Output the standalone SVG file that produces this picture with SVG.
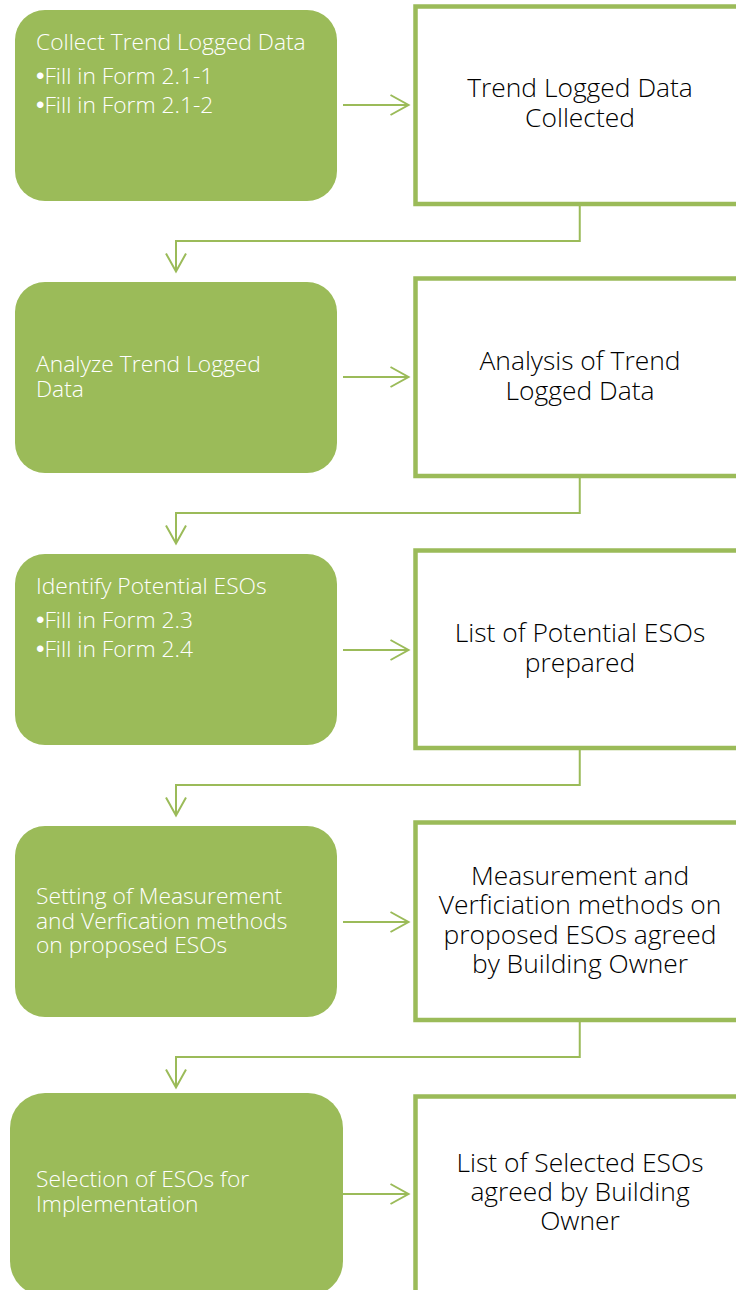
<svg xmlns="http://www.w3.org/2000/svg" width="736" height="1290" viewBox="0 0 736 1290">
<defs>
<marker id="arr" viewBox="-2 -2 24 24" markerWidth="24" markerHeight="24" refX="17.5" refY="10" markerUnits="userSpaceOnUse" orient="auto">
<path d="M0,0 L18,10 L0,20" fill="none" stroke="#9BBB59" stroke-width="2"/>
</marker>
</defs>
<style>
.g{fill:#9BBB59}
.w{fill:#fff;stroke:#9BBB59;stroke-width:4.5}
.gt{fill:#fff;font-family:"Open Sans","Noto Sans","Liberation Sans",sans-serif;font-size:22.8px;font-weight:300}
.b{font-family:"Liberation Sans",Arial,sans-serif;font-size:24px;font-weight:400}
.wt{fill:#000;font-family:"Open Sans","Noto Sans","Liberation Sans",sans-serif;font-size:26.4px;font-weight:300;text-anchor:middle}
.c{fill:none;stroke:#9BBB59;stroke-width:2;marker-end:url(#arr)}
</style>
<rect width="736" height="1290" fill="#fff"/>
<g id="connectors">
<path class="c" d="M343,105 H408"/>
<path class="c" d="M343,377 H408"/>
<path class="c" d="M343,650 H408"/>
<path class="c" d="M343,922 H408"/>
<path class="c" d="M343,1194 H408"/>
<path class="c" d="M579.75,206 V241 H176 V271"/>
<path class="c" d="M579.75,478 V513 H176 V543"/>
<path class="c" d="M579.75,750 V785 H176 V815"/>
<path class="c" d="M579.75,1022 V1057 H176 V1087"/>
</g>
<g id="step1">
<rect class="g" x="15" y="10" width="322" height="191" rx="30"/>
<text class="gt" x="36" y="49.5">Collect Trend Logged Data</text>
<text class="gt" x="36" y="83.5"><tspan class="b">•</tspan>Fill in Form 2.1-1</text>
<text class="gt" x="36" y="112.5"><tspan class="b">•</tspan>Fill in Form 2.1-2</text>
</g>
<g id="result1">
<rect class="w" x="415.5" y="6.5" width="330" height="197.5"/>
<text class="wt" x="580" y="97">Trend Logged Data</text>
<text class="wt" x="580" y="127">Collected</text>
</g>
<g id="step2">
<rect class="g" x="15" y="282" width="322" height="191" rx="30"/>
<text class="gt" x="36" y="372">Analyze Trend Logged</text>
<text class="gt" x="36" y="397">Data</text>
</g>
<g id="result2">
<rect class="w" x="415.5" y="278.5" width="330" height="197.5"/>
<text class="wt" x="580" y="369.5">Analysis of Trend</text>
<text class="wt" x="580" y="399.5">Logged Data</text>
</g>
<g id="step3">
<rect class="g" x="15" y="554" width="322" height="191" rx="30"/>
<text class="gt" x="36" y="594">Identify Potential ESOs</text>
<text class="gt" x="36" y="628"><tspan class="b">•</tspan>Fill in Form 2.3</text>
<text class="gt" x="36" y="657"><tspan class="b">•</tspan>Fill in Form 2.4</text>
</g>
<g id="result3">
<rect class="w" x="415.5" y="550.5" width="330" height="197.5"/>
<text class="wt" x="580" y="642">List of Potential ESOs</text>
<text class="wt" x="580" y="672">prepared</text>
</g>
<g id="step4">
<rect class="g" x="15" y="826" width="322" height="191" rx="30"/>
<text class="gt" x="36" y="904">Setting of Measurement</text>
<text class="gt" x="36" y="928.5">and Verfication methods</text>
<text class="gt" x="36" y="953">on proposed ESOs</text>
</g>
<g id="result4">
<rect class="w" x="415.5" y="822.5" width="330" height="197.5"/>
<text class="wt" x="580" y="885">Measurement and</text>
<text class="wt" x="580" y="914.3">Verficiation methods on</text>
<text class="wt" x="580" y="943.6">proposed ESOs agreed</text>
<text class="wt" x="580" y="973">by Building Owner</text>
</g>
<g id="step5">
<rect class="g" x="10" y="1093" width="333" height="203" rx="35"/>
<text class="gt" x="36" y="1187">Selection of ESOs for</text>
<text class="gt" x="36" y="1212">Implementation</text>
</g>
<g id="result5">
<rect class="w" x="415.5" y="1096.5" width="330" height="197.5"/>
<text class="wt" x="580" y="1172">List of Selected ESOs</text>
<text class="wt" x="580" y="1201">agreed by Building</text>
<text class="wt" x="580" y="1230">Owner</text>
</g>
</svg>
